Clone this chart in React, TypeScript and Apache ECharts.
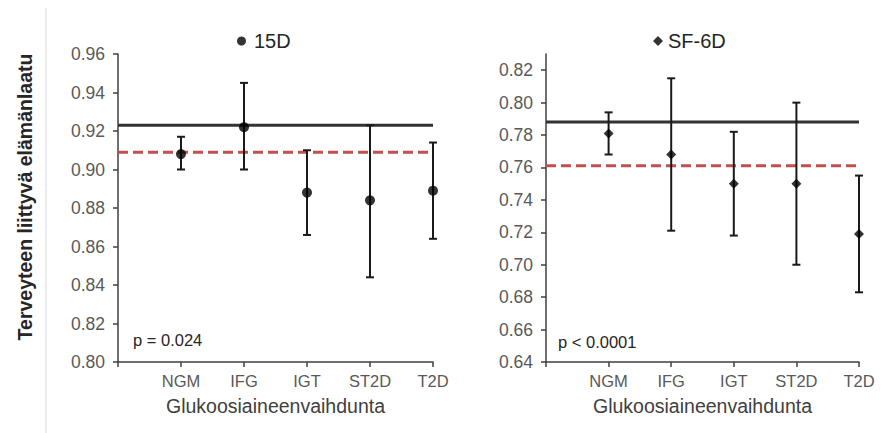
import React, { useEffect, useRef } from "react";
import * as echarts from "echarts";

const categories = ["NGM", "IFG", "IGT", "ST2D", "T2D"];

// 15D
const mean15D = [0.908, 0.922, 0.888, 0.884, 0.889];
const low15D = [0.9, 0.9, 0.866, 0.844, 0.864];
const high15D = [0.917, 0.945, 0.91, 0.923, 0.914];
const ref15D = 0.923; // black line
const pop15D = 0.909; // red dashed line

// SF-6D
const meanSF6D = [0.781, 0.768, 0.75, 0.75, 0.719];
const lowSF6D = [0.768, 0.721, 0.718, 0.7, 0.683];
const highSF6D = [0.794, 0.815, 0.782, 0.8, 0.755];
const refSF6D = 0.788;
const popSF6D = 0.761;

const yTitle = "Terveyteen liittyvä elämänlaatu";
const xTitle = "Glukoosiaineenvaihdunta";
const pLeft = "p = 0.024";
const pRight = "p < 0.0001";

const FONT = "Liberation Sans";

function errorSeries(idx: number, low: number[], high: number[]) {
  return {
    type: "custom",
    xAxisIndex: idx,
    yAxisIndex: idx,
    silent: true,
    z: 3,
    data: categories.map((_, i) => [i + 1, low[i], high[i]]),
    encode: { x: 0, y: [1, 2] },
    renderItem: (params: any, api: any) => {
      const x = api.value(0);
      const lo = api.coord([x, api.value(1)]);
      const hi = api.coord([x, api.value(2)]);
      const cap = 4;
      const style = { stroke: "#1a1a1a", lineWidth: 2 };
      return {
        type: "group",
        children: [
          { type: "line", shape: { x1: lo[0], y1: lo[1], x2: hi[0], y2: hi[1] }, style },
          { type: "line", shape: { x1: lo[0] - cap, y1: lo[1], x2: lo[0] + cap, y2: lo[1] }, style },
          { type: "line", shape: { x1: hi[0] - cap, y1: hi[1], x2: hi[0] + cap, y2: hi[1] }, style },
        ],
      };
    },
  };
}

function hLine(idx: number, v: number, color: string, type: any) {
  return {
    type: "line",
    xAxisIndex: idx,
    yAxisIndex: idx,
    silent: true,
    showSymbol: false,
    symbol: "none",
    z: 1,
    data: [
      [0, v],
      [5, v],
    ],
    lineStyle: { color, width: 3, type },
  };
}

function xAxis(idx: number) {
  return {
    type: "value",
    gridIndex: idx,
    min: 0,
    max: 5,
    interval: 1,
    splitLine: { show: false },
    axisLine: { show: true, onZero: false, lineStyle: { color: "#404040", width: 1.5 } },
    axisTick: { show: true, inside: false, length: 5, lineStyle: { color: "#404040", width: 1.5 } },
    axisLabel: {
      margin: 10,
      fontSize: 16.5,
      color: "#595959",
      fontFamily: FONT,
      formatter: (v: number) => (v >= 1 ? categories[Math.round(v) - 1] : ""),
    },
    name: xTitle,
    nameLocation: "middle",
    nameGap: 34,
    nameTextStyle: { fontSize: 19.5, color: "#404040", fontFamily: FONT },
  };
}

function yAxis(idx: number, min: number, max: number, hideMax: boolean) {
  return {
    type: "value",
    gridIndex: idx,
    min,
    max,
    interval: 0.02,
    splitLine: { show: false },
    axisLine: { show: true, onZero: false, lineStyle: { color: "#404040", width: 1.5 } },
    axisTick: { show: true, inside: false, length: 5, lineStyle: { color: "#404040", width: 1.5 } },
    axisLabel: {
      margin: 13,
      fontSize: 17.5,
      color: "#595959",
      fontFamily: FONT,
      showMaxLabel: !hideMax,
      formatter: (v: number) => v.toFixed(2),
    },
  };
}

export default function App() {
  const ref = useRef<HTMLDivElement>(null);
  useEffect(() => {
    if (!ref.current) return;
    const chart = echarts.init(ref.current, undefined, { renderer: "svg" });
    chart.setOption({
      animation: false,
      backgroundColor: "#ffffff",
      textStyle: { fontFamily: FONT },
      grid: [
        { left: 118, top: 54, width: 315, height: 308 },
        { left: 546, top: 54, width: 313, height: 308 },
      ],
      legend: [
        {
          data: [{ name: "15D", icon: "circle" }],
          left: 232,
          top: 26,
          itemWidth: 15,
          itemHeight: 9,
          selectedMode: false,
          textStyle: { fontSize: 20, color: "#262626", fontFamily: FONT },
        },
        {
          data: [{ name: "SF-6D", icon: "diamond" }],
          left: 648,
          top: 26,
          itemWidth: 10,
          itemHeight: 10,
          selectedMode: false,
          textStyle: { fontSize: 20, color: "#262626", fontFamily: FONT },
        },
      ],
      xAxis: [xAxis(0), xAxis(1)],
      yAxis: [yAxis(0, 0.8, 0.96, false), yAxis(1, 0.64, 0.83, true)],
      series: [
        hLine(0, ref15D, "#333333", "solid"),
        hLine(0, pop15D, "#c0504d", [10, 5]),
        errorSeries(0, low15D, high15D),
        {
          name: "15D",
          type: "scatter",
          xAxisIndex: 0,
          yAxisIndex: 0,
          symbol: "circle",
          symbolSize: 10,
          z: 4,
          itemStyle: { color: "#000000" },
          data: categories.map((_, i) => [i + 1, mean15D[i]]),
        },
        hLine(1, refSF6D, "#333333", "solid"),
        hLine(1, popSF6D, "#c0504d", [10, 5]),
        errorSeries(1, lowSF6D, highSF6D),
        {
          name: "SF-6D",
          type: "scatter",
          xAxisIndex: 1,
          yAxisIndex: 1,
          symbol: "diamond",
          symbolSize: 10,
          z: 4,
          itemStyle: { color: "#000000" },
          data: categories.map((_, i) => [i + 1, meanSF6D[i]]),
        },
      ],
      graphic: [
        {
          type: "line",
          shape: { x1: 46, y1: 8, x2: 46, y2: 433 },
          style: { stroke: "#d9d9d9", lineWidth: 1 },
          silent: true,
        },
        {
          type: "text",
          x: 25,
          y: 197,
          rotation: Math.PI / 2,
          style: {
            text: yTitle,
            align: "center",
            verticalAlign: "middle",
            font: `bold 19.5px "${FONT}"`,
            fill: "#262626",
          },
        },
        {
          type: "text",
          x: 133,
          y: 340,
          style: { text: pLeft, verticalAlign: "middle", font: `16.5px "${FONT}"`, fill: "#262626" },
        },
        {
          type: "text",
          x: 558,
          y: 342,
          style: { text: pRight, verticalAlign: "middle", font: `16.5px "${FONT}"`, fill: "#262626" },
        },
      ],
    });
    return () => chart.dispose();
  }, []);
  return (
    <div
      ref={ref}
      style={{ position: "absolute", left: 0, top: 0, width: 884, height: 433, background: "#fff" }}
    />
  );
}
